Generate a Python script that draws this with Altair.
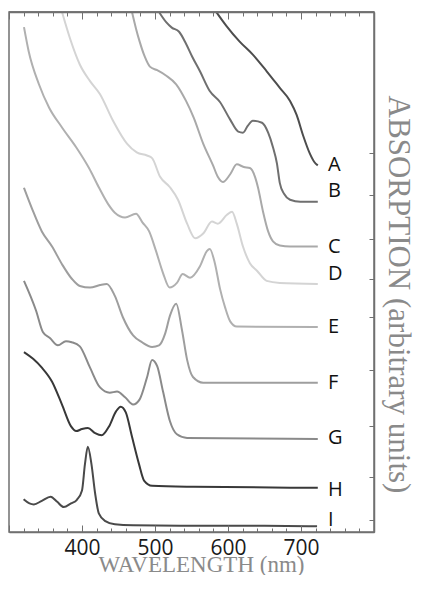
import altair as alt
import pandas as pd

series = list("ABCDEFGHI")

A_nm = [584, 598, 616, 634, 653, 671, 685, 694, 703, 712, 718, 723]
A_val = [10.0, 9.73, 9.43, 9.18, 8.86, 8.54, 8.29, 8.02, 7.62, 7.28, 7.12, 7.05]

B_nm = [505.5, 515, 523, 533, 542.5, 551, 561.6, 575, 589, 603, 614, 620.5, 627, 634, 646.6, 655, 661.6, 667, 671, 677, 685, 699, 723]
B_val = [10.0, 9.81, 9.70, 9.62, 9.39, 9.14, 8.86, 8.48, 8.27, 7.93, 7.70, 7.68, 7.81, 7.91, 7.87, 7.68, 7.40, 7.09, 6.71, 6.50, 6.39, 6.35, 6.35]

C_nm = [468.5, 474, 479, 486, 493, 503, 515, 529, 542.5, 553, 566, 579.5, 586, 593, 603, 612, 621.6, 630, 637, 641, 648, 655, 661.6, 671, 685, 723]
C_val = [10.0, 9.68, 9.43, 9.14, 8.95, 8.88, 8.78, 8.61, 8.29, 7.97, 7.47, 7.05, 6.83, 6.73, 6.88, 7.07, 7.02, 7.00, 6.83, 6.63, 6.16, 5.78, 5.59, 5.51, 5.49, 5.49]

D_nm = [372.6, 383.6, 397, 411, 424.7, 442.5, 461.6, 475, 489, 496, 507, 520.5, 531.5, 544, 555, 566, 578, 586, 598.6, 605.5, 612, 620.5, 630, 640, 653, 671, 723]
D_val = [10.0, 9.49, 8.99, 8.67, 8.42, 7.91, 7.47, 7.30, 7.24, 7.19, 6.83, 6.63, 6.39, 5.93, 5.65, 5.74, 5.97, 5.93, 6.10, 6.16, 5.93, 5.49, 5.17, 5.02, 4.83, 4.79, 4.77]

E_nm = [320.5, 327, 341, 355, 372.6, 392, 409.6, 423, 435.6, 445, 459, 474, 483, 492, 501, 511, 520, 530, 538, 548, 561.6, 571, 575, 582, 589, 596, 603, 612, 723]
E_val = [9.71, 9.24, 8.61, 8.16, 7.78, 7.40, 7.00, 6.63, 6.31, 6.14, 6.05, 6.12, 5.95, 5.78, 5.42, 4.98, 4.70, 4.79, 4.96, 4.89, 5.11, 5.40, 5.44, 5.17, 4.68, 4.32, 4.05, 3.95, 3.94]

F_nm = [320.5, 331.5, 345, 359, 372.6, 386, 397, 411, 424.7, 434, 445, 456, 470, 482, 496, 505.5, 514, 520.5, 529, 537, 544, 552, 566, 723]
F_val = [6.62, 6.22, 5.78, 5.49, 5.15, 4.87, 4.73, 4.70, 4.75, 4.77, 4.54, 4.13, 3.78, 3.65, 3.56, 3.59, 3.82, 4.16, 4.39, 3.88, 3.31, 2.98, 2.87, 2.87]

G_nm = [320.5, 337, 346.6, 356, 367, 378, 386, 397, 411, 424.7, 438, 448, 459, 470, 479, 489, 496, 503, 511, 520.5, 530, 544, 723]
G_val = [4.83, 4.26, 3.84, 3.73, 3.59, 3.67, 3.65, 3.57, 3.16, 2.78, 2.68, 2.70, 2.59, 2.45, 2.55, 2.97, 3.31, 3.19, 2.70, 2.13, 1.88, 1.81, 1.79]

H_nm = [320.5, 333, 345, 359, 372.6, 385, 392, 400, 408, 418, 427, 437, 446.6, 453, 460, 468.5, 478, 485, 496, 553, 723]
H_val = [3.46, 3.33, 3.16, 2.89, 2.45, 2.03, 1.94, 1.98, 2.00, 1.90, 1.86, 2.03, 2.32, 2.41, 2.30, 1.83, 1.31, 0.99, 0.89, 0.87, 0.85]

I_nm = [320, 328, 334, 345, 357, 366, 375, 385, 393, 400, 404, 408, 413, 418, 423, 432, 445, 470, 550, 650, 722]
I_val = [0.63, 0.55, 0.53, 0.60, 0.68, 0.58, 0.48, 0.55, 0.62, 0.80, 1.30, 1.64, 1.30, 0.74, 0.36, 0.21, 0.15, 0.13, 0.12, 0.12, 0.11]

line_colors = ["#4d4d4d", "#6f6f6f", "#a9a9a9", "#d4d4d4", "#b0b0b0", "#9e9e9e", "#8a8a8a", "#383838", "#4a4a4a"]

label_nm = [737, 737, 737, 737, 737, 737, 737, 737, 737]
label_val = [7.05, 6.56, 5.48, 4.96, 3.94, 2.87, 1.81, 0.80, 0.23]

right_ticks = [7.28, 6.48, 5.63, 4.87, 4.13, 3.12, 2.03, 1.06, 0.23]
x_ticks = list(range(300, 801, 20))
x_labels = [400, 500, 600, 700]
x_domain = [300, 800]
y_domain = [0, 10]

all_nm = [A_nm, B_nm, C_nm, D_nm, E_nm, F_nm, G_nm, H_nm, I_nm]
all_val = [A_val, B_val, C_val, D_val, E_val, F_val, G_val, H_val, I_val]
rows = []
for s, nms, vals in zip(series, all_nm, all_val):
    for i, (n, v) in enumerate(zip(nms, vals)):
        rows.append({"series": s, "nm": n, "absorb": v, "order": i})
curves = pd.DataFrame(rows)
labels = pd.DataFrame({"series": series, "nm": label_nm, "absorb": label_val})
top_edge = pd.DataFrame({"nm": [x_domain[0]], "nm2": [x_domain[1]], "absorb": [y_domain[1]]})

W, H = 365, 520
xscale = alt.Scale(domain=x_domain, nice=False, zero=False)
yscale = alt.Scale(domain=y_domain, nice=False, zero=False)
frame_col = "#707070"
title_col = "#8a8a8a"
major_minor = {"condition": {"test": "datum.value % 100 === 0", "value": 7}, "value": 4}

lines = alt.Chart(curves).mark_line(strokeWidth=2, interpolate="monotone").encode(
    x=alt.X("nm:Q", scale=xscale, axis=alt.Axis(
        orient="bottom", values=x_labels, ticks=False, tickSize=0, domain=False, grid=False,
        labelFont="Liberation Sans Narrow, Open Sans", labelFontSize=21, labelColor="#1a1a1a",
        labelPadding=5, title="WAVELENGTH (nm)", titleFont="Liberation Serif", titleFontSize=23,
        titleFontWeight="normal", titleColor=title_col, titleX=192, titleY=39,
        titleBaseline="alphabetic", titleAlign="center")),
    y=alt.Y("absorb:Q", scale=yscale, axis=alt.Axis(
        orient="right", labels=False, ticks=False, domain=False, grid=False,
        title="ABSORPTION (arbitrary units)", titleFont="Liberation Serif", titleFontSize=31,
        titleFontWeight="normal", titleColor=title_col, titlePadding=7, titleY=282,
        titleAlign="center")),
    color=alt.Color("series:N", scale=alt.Scale(domain=series, range=line_colors), legend=None),
    order="order:Q",
)

texts = alt.Chart(labels).mark_text(align="left", baseline="middle", font="Open Sans",
                                     fontSize=20, color="#111111").encode(
    x=alt.X("nm:Q", scale=xscale, axis=alt.Axis(
        orient="top", offset=-H, values=x_ticks, labels=False, domain=True,
        domainColor=frame_col, domainWidth=1.5, title=None, zindex=1,
        tickColor=frame_col, tickWidth=1, tickSize=major_minor)),
    y=alt.Y("absorb:Q", scale=yscale, axis=alt.Axis(
        orient="left", offset=-W, values=right_ticks, labels=False, domain=True,
        domainColor=frame_col, domainWidth=1.5, title=None, zindex=1,
        tickColor=frame_col, tickWidth=1, tickSize=5)),
    text="series:N",
)

topticks = alt.Chart(labels).mark_point(opacity=0).encode(
    x=alt.X("nm:Q", scale=xscale, axis=alt.Axis(
        orient="bottom", offset=-H, values=x_ticks, labels=False, domain=True,
        domainColor=frame_col, domainWidth=1.5, title=None, zindex=1,
        tickColor=frame_col, tickWidth=1, tickSize=major_minor)),
    y=alt.Y("absorb:Q", scale=yscale, axis=None),
)

top_line = alt.Chart(top_edge).mark_rule(color=frame_col, strokeWidth=1.5).encode(
    x=alt.X("nm:Q", scale=xscale, axis=None),
    x2="nm2:Q",
    y=alt.Y("absorb:Q", scale=yscale, axis=None),
)

chart = alt.layer(lines, texts, topticks, top_line).resolve_axis(x="independent", y="independent").properties(
    width=W, height=H,
    autosize=alt.AutoSizeParams(type="none"),
    padding={"left": 1, "top": 4, "right": 43, "bottom": 43},
).configure_view(stroke=frame_col, strokeWidth=1.5).configure_axis(grid=False)

chart.save("out.html", embed_options={"renderer": "svg", "actions": False})
